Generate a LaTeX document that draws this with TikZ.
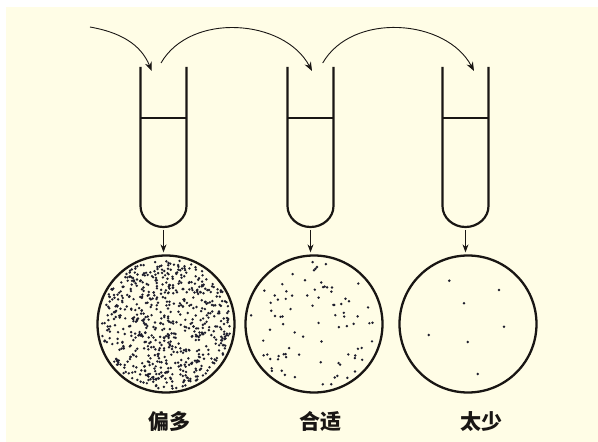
\documentclass[tikz,border=0pt]{standalone}
\usepackage{fontspec}
\newfontfamily\cjk{Noto Sans CJK SC}
\usetikzlibrary{arrows.meta,calc}
\definecolor{paper}{RGB}{255,253,230}
\definecolor{ink}{RGB}{25,22,20}
\definecolor{colony}{RGB}{30,30,45}
\tikzset{tube/.style={draw=ink,line width=2.2pt},
  level/.style={draw=ink,line width=1.2pt},
  dish/.style={circle,draw=ink,line width=2.3pt,minimum size=137pt,inner sep=0pt},
  flow/.style={-{Stealth[length=9pt,width=7pt]},ink,line width=0.9pt},
  drop/.style={-{Stealth[length=8pt,width=6pt]},ink,line width=0.9pt,shorten >=2pt},
  caption/.style={font=\cjk\bfseries\fontsize{21}{21}\selectfont,text=ink,inner sep=0pt}}

\begin{document}
\begin{tikzpicture}[x=1pt,y=1pt]
\useasboundingbox (0,0) rectangle (598,442);
\fill[white] (0,0) rectangle (598,442);
\fill[paper] (6,0) rectangle (598,435);
% three dilution tubes
\foreach \n/\cx in {1/163.5,2/310.5,3/465.5}{
  \draw[tube] (\cx-23,375) -- (\cx-23,236)
    arc[start angle=180,end angle=360,x radius=23,y radius=21] -- (\cx+23,375);
  \draw[level] (\cx-23,324) -- (\cx+23,324);
  \coordinate (b\n) at (\cx,212);
}
% transfer between tubes
\coordinate (s0) at (90,415);
\coordinate (in1) at (151.7,371);
\coordinate (out1) at (161,379);
\coordinate (in2) at (312,371);
\coordinate (out2) at (322.7,379);
\coordinate (in3) at (474,371);
\draw[flow] (s0) to[out=-10,in=112] (in1);
\draw[flow] (out1) to[out=60,in=118] (in2);
\draw[flow] (out2) to[out=60,in=118] (in3);
% plates
\node[dish] (c1) at (166,118) {};
\node[dish] (c2) at (314,118) {};
\node[dish] (c3) at (468,118) {};
\draw[drop] (b1) -- (b1 |- c1.north);
\draw[drop] (b2) -- (b2 |- c2.north);
\draw[drop] (b3) -- (b3 |- c3.north);
% colonies
\pgfmathsetseed{4721}
\foreach \i in {1,...,680}{
  \pgfmathsetmacro\r{65*sqrt(rnd)}
  \pgfmathsetmacro\a{360*rnd}
  \fill[colony] (c1) ++(\a:\r) circle (1.35);
}
\pgfmathsetseed{913}
\foreach \i in {1,...,85}{
  \pgfmathsetmacro\r{64*sqrt(rnd)}
  \pgfmathsetmacro\a{360*rnd}
  \fill[colony] (c2) ++(\a:\r) circle (1.35);
}
\foreach \x/\y in {449.3/161.3, 499/152, 464/138.7, 504/115.3, 428.7/107, 467.7/100, 477.7/68}
  \fill[colony] (\x,\y) circle (1.4);
\node[caption] (l1) at (169,20.3) {偏多};
\node[caption] (l2) at (320.5,20.3) {合适};
\node[caption] (l3) at (481.5,20.3) {太少};
\end{tikzpicture}
\end{document}
